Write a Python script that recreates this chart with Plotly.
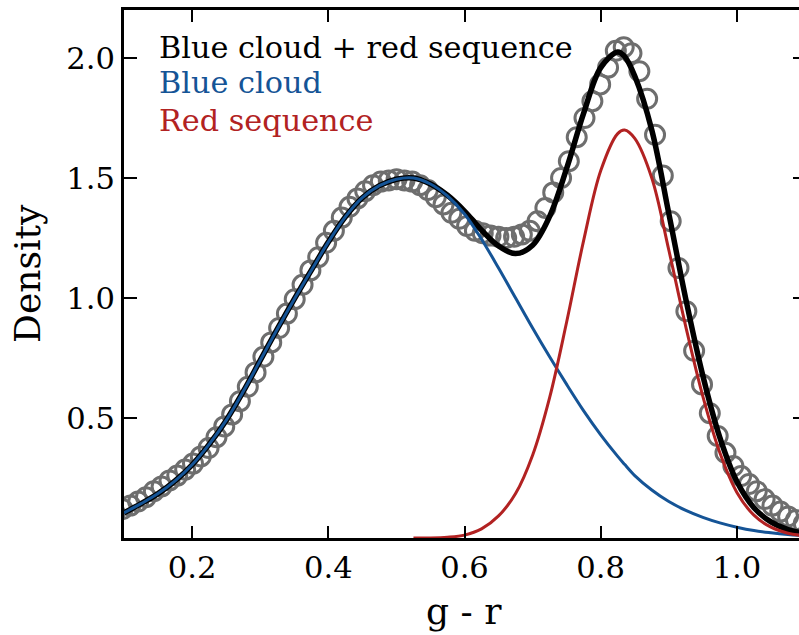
import numpy as np
import plotly.graph_objects as go

# ---- model curves (g - r colour grid) ----
grid_x = [0.100, 0.125, 0.150, 0.175, 0.200, 0.225, 0.250, 0.275, 0.300, 0.325,
          0.350, 0.375, 0.400, 0.425, 0.450, 0.475, 0.500, 0.525, 0.550, 0.575,
          0.600, 0.625, 0.650, 0.675, 0.700, 0.725, 0.750, 0.775, 0.800, 0.825,
          0.835, 0.850, 0.875, 0.900, 0.925, 0.950, 0.975, 1.000, 1.025, 1.050,
          1.075, 1.100]

blue_cloud = [0.105, 0.143, 0.185, 0.238, 0.305, 0.390, 0.490, 0.610, 0.740, 0.870,
              0.995, 1.115, 1.233, 1.338, 1.418, 1.468, 1.495, 1.500, 1.475, 1.425,
              1.350, 1.245, 1.125, 1.000, 0.875, 0.755, 0.640, 0.530, 0.430, 0.340,
              0.307, 0.260, 0.200, 0.152, 0.115, 0.086, 0.063, 0.045, 0.031, 0.022,
              0.015, 0.010]

red_sequence = [0.0, 0.0, 0.0, 0.0, 0.0, 0.0, 0.0, 0.0, 0.0, 0.0,
                0.0, 0.0, 0.0, 0.0, 0.0, 0.0, 0.0, 0.0, 0.0, 0.003,
                0.012, 0.038, 0.092, 0.185, 0.345, 0.585, 0.900, 1.240, 1.530, 1.685,
                1.700, 1.665, 1.500, 1.200, 0.880, 0.590, 0.355, 0.190, 0.095, 0.045,
                0.020, 0.009]

# combined model is the sum of the two components
combined = [b + r for b, r in zip(blue_cloud, red_sequence)]

# ---- measured density (histogram bins of width 0.0115) ----
bin_x = list(np.round(0.00575 + 0.0115 * np.arange(7, 97), 4))
density = [0.105, 0.120, 0.135, 0.152, 0.170, 0.195, 0.215, 0.240, 0.260, 0.285,
           0.310, 0.340, 0.375, 0.420, 0.465, 0.515, 0.570, 0.630, 0.690, 0.755,
           0.815, 0.875, 0.935, 0.995, 1.055, 1.115, 1.170, 1.230, 1.280, 1.335,
           1.380, 1.415, 1.445, 1.470, 1.485, 1.490, 1.495, 1.490, 1.485, 1.470,
           1.450, 1.420, 1.390, 1.355, 1.330, 1.300, 1.280, 1.270, 1.260, 1.255,
           1.250, 1.255, 1.265, 1.280, 1.320, 1.375, 1.440, 1.500, 1.570, 1.670,
           1.750, 1.820, 1.890, 1.960, 2.030, 2.045, 2.020, 1.945, 1.830, 1.680,
           1.510, 1.320, 1.125, 0.945, 0.780, 0.640, 0.520, 0.425, 0.355, 0.300,
           0.258, 0.225, 0.195, 0.162, 0.135, 0.110, 0.090, 0.075, 0.060, 0.050]

x_ticks = [0.2, 0.4, 0.6, 0.8, 1.0]
x_tick_text = ["0.2", "0.4", "0.6", "0.8", "1.0"]
y_ticks = [0.5, 1.0, 1.5, 2.0]
y_tick_text = ["0.5", "1.0", "1.5", "2.0"]

legend_labels = ["Blue cloud + red sequence", "Blue cloud", "Red sequence"]

BLUE = "#155496"
RED = "#b22222"
GREY = "#6e6e6e"
FONT = "DejaVu Serif"

W, H = 799, 635
L, R, T, B = 124, 0, 10, 97
PX_PER_X = 681.0
x_max = 0.1 + (W - L - R) / PX_PER_X

# the red component is flat zero (hidden under the bottom spine) below ~0.52
red_x = [x for x in grid_x if x >= 0.525]
red_y = [r for x, r in zip(grid_x, red_sequence) if x >= 0.525]

fig = go.Figure()

fig.add_trace(go.Scatter(
    x=bin_x, y=density, mode="markers",
    marker=dict(symbol="circle-open", size=19, color=GREY, line=dict(width=3, color=GREY)),
    showlegend=False, hoverinfo="skip"))

line_shape = dict(shape="spline", smoothing=1.0)
fig.add_trace(go.Scatter(
    x=grid_x, y=combined, mode="lines", line=dict(color="black", width=5.5, **line_shape),
    showlegend=False))
fig.add_trace(go.Scatter(
    x=grid_x, y=blue_cloud, mode="lines", line=dict(color=BLUE, width=3, **line_shape),
    showlegend=False))
fig.add_trace(go.Scatter(
    x=red_x, y=red_y, mode="lines", line=dict(color=RED, width=3, **line_shape),
    showlegend=False))

# carrier for the right-hand tick marks
fig.add_trace(go.Scatter(x=[0.5], y=[1.0], yaxis="y2", mode="markers",
                         marker=dict(opacity=0), showlegend=False, hoverinfo="skip"))

axis_common = dict(showgrid=False, zeroline=False, ticks="inside", tickwidth=2,
                   tickcolor="black", tickfont=dict(family=FONT, size=30.6, color="black"))

fig.update_layout(
    width=W, height=H,
    margin=dict(l=L, r=R, t=T, b=B),
    paper_bgcolor="white", plot_bgcolor="white",
    xaxis=dict(range=[0.1, x_max], tickvals=x_ticks, ticktext=x_tick_text,
               showline=True, linewidth=3, linecolor="black", mirror="ticks",
               ticklen=12, **axis_common),
    yaxis=dict(range=[0, 2.2], tickvals=y_ticks, ticktext=y_tick_text,
               showline=True, linewidth=3, linecolor="black",
               ticklen=13, **axis_common),
    yaxis2=dict(range=[0, 2.2], overlaying="y", side="right", tickvals=y_ticks,
                showticklabels=False, showline=False, ticklen=6,
                showgrid=False, zeroline=False, ticks="inside", tickwidth=2, tickcolor="black"),
)

def px_x(p):
    return (p - L) / (W - L - R)

def px_y(p):
    return 1 - (p - T) / (H - T - B)

legend_colors = ["black", BLUE, RED]
legend_rows = [47, 82, 120]
for text, color, row in zip(legend_labels, legend_colors, legend_rows):
    fig.add_annotation(text=text, xref="paper", yref="paper", x=px_x(157), y=px_y(row),
                       xanchor="left", yanchor="middle", showarrow=False,
                       font=dict(family=FONT, size=30.3, color=color))

fig.add_annotation(text="g - r", xref="paper", yref="paper", x=px_x(464), y=px_y(612),
                   xanchor="center", yanchor="middle", showarrow=False,
                   font=dict(family=FONT, size=36.1, color="black"))
fig.add_annotation(text="Density", xref="paper", yref="paper", x=px_x(28), y=px_y(274),
                   xanchor="center", yanchor="middle", textangle=-90, showarrow=False,
                   font=dict(family=FONT, size=36.1, color="black"))

fig.write_html("out.html")
